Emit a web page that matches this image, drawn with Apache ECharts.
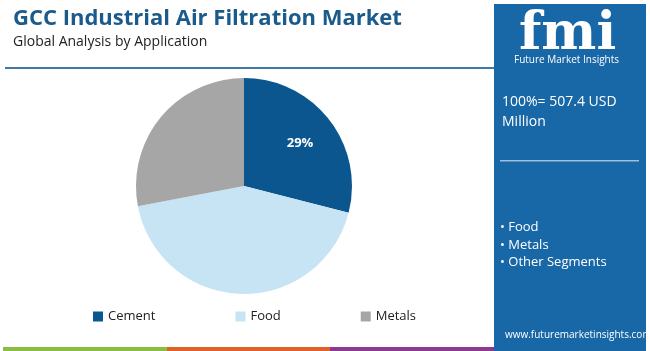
<!DOCTYPE html>
<html>
<head>
<meta charset="utf-8">
<script src="https://cdn.jsdelivr.net/npm/echarts@6/dist/echarts.min.js"></script>
<style>
  html, body { margin: 0; padding: 0; background: #fff; }
  #main { width: 650px; height: 351px; }
</style>
</head>
<body>
<div id="main"></div>
<script>
var categories = ['Cement', 'Food', 'Metals'];
var shares = [29, 43, 28];
var colors = ['#0c5690', '#c6e4f4', '#a6a6a6'];
var bullets = ['• Food', '• Metals', '• Other Segments'];

var chart = echarts.init(document.getElementById('main'));
var font = '"Open Sans", sans-serif';

var option = {
    backgroundColor: '#fff',
    animation: false,
    title: {
        text: 'GCC Industrial Air Filtration Market',
        subtext: 'Global Analysis by Application',
        left: 8,
        top: 3,
        itemGap: 5,
        textStyle: { color: '#1a5b8c', fontSize: 22, fontWeight: 'bold', fontFamily: font },
        subtextStyle: { color: '#222', fontSize: 14, fontFamily: font }
    },
    legend: {
        data: categories,
        left: 88,
        top: 305,
        icon: 'rect',
        itemWidth: 10,
        itemHeight: 10,
        itemGap: 80,
        textStyle: { color: '#222', fontSize: 13, fontFamily: font }
    },
    color: colors,
    series: [
        {
            type: 'pie',
            center: [244, 186],
            radius: 108,
            startAngle: 90,
            clockwise: true,
            label: { show: false },
            labelLine: { show: false },
            data: categories.map(function (c, i) {
                var d = { name: c, value: shares[i] };
                if (i === 0) {
                    d.label = {
                        show: true,
                        position: 'inside',
                        formatter: '{d}%',
                        offset: [11, -8],
                        color: '#fff',
                        fontWeight: 'bold',
                        fontSize: 13,
                        fontFamily: font
                    };
                }
                return d;
            })
        }
    ],
    graphic: [
        // thin separator under the heading
        { type: 'rect', shape: { x: 5, y: 67, width: 492, height: 2 }, style: { fill: '#3f79a6' } },
        // bottom colour strip
        { type: 'rect', shape: { x: 3, y: 347, width: 164, height: 4 }, style: { fill: '#8bbd45' } },
        { type: 'rect', shape: { x: 167, y: 347, width: 163, height: 4 }, style: { fill: '#e0622b' } },
        { type: 'rect', shape: { x: 330, y: 347, width: 165, height: 4 }, style: { fill: '#8b3a8f' } },
        // right info panel
        { type: 'rect', shape: { x: 494, y: 4, width: 152, height: 347 }, style: { fill: '#1867a7' } },
        {
            type: 'text', left: 519, top: 9,
            style: { text: 'fmi', fill: '#fff', font: 'bold 52px "DejaVu Serif", serif' }
        },
        {
            type: 'text', left: 514, top: 55,
            style: { text: 'Future Market Insights', fill: '#fff', font: '10px ' + font }
        },
        {
            type: 'text', left: 502, top: 92,
            style: { text: '100%= 507.4 USD\nMillion', fill: '#fff', font: '14px ' + font, lineHeight: 20 }
        },
        { type: 'rect', shape: { x: 500, y: 160, width: 139, height: 1.5 }, style: { fill: '#9cc0de' } },
        {
            type: 'text', left: 500, top: 219,
            style: { text: bullets.join('\n'), fill: '#fff', font: '13px ' + font, lineHeight: 17.5 }
        },
        {
            type: 'text', left: 505, top: 330,
            style: { text: 'www.futuremarketinsights.com', fill: '#fff', font: '10px ' + font }
        }
    ]
};

chart.setOption(option);
window.onresize = function () { chart.resize(); };
</script>
</body>
</html>
